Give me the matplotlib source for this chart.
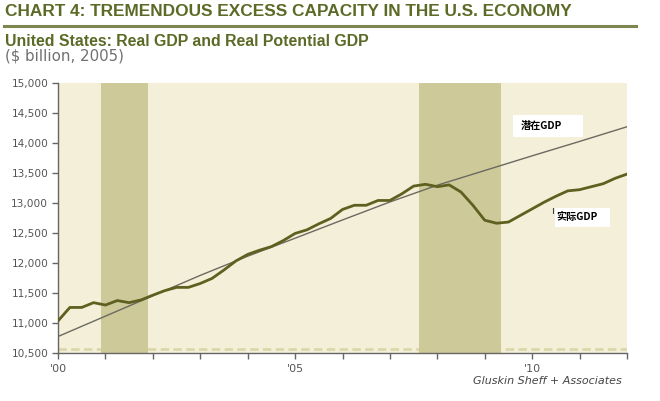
import matplotlib
matplotlib.use("Agg")
import matplotlib.pyplot as plt
from matplotlib.patches import Rectangle
from matplotlib.ticker import FuncFormatter
import numpy as np

# ---------------- data ----------------
start_year = 2000
# Real GDP, quarterly 2000Q1 .. 2012Q1 ($ billion, 2005)
real_gdp = [11030, 11255, 11255, 11335,
            11295, 11370, 11335, 11380,
            11460, 11535, 11590, 11590,
            11655, 11740, 11880, 12030,
            12140, 12210, 12270, 12370,
            12490, 12550, 12650, 12740,
            12890, 12960, 12960, 13040,
            13040, 13150, 13280, 13310,
            13270, 13300, 13180, 12960,
            12710, 12660, 12680, 12790,
            12900, 13010, 13110, 13200,
            13220, 13270, 13320, 13410,
            13480]
# Real potential GDP, annual points
potential_years = [2000, 2001, 2002, 2003, 2004, 2005, 2006, 2007, 2008, 2009, 2010, 2011, 2012]
potential_gdp = [10770, 11110, 11450, 11790, 12110, 12410, 12715, 13015, 13295, 13540, 13785, 14025, 14270]
# recession shading (start, end) in fractional years
recessions = [(2000.91, 2001.90), (2007.62, 2009.34)]
year_ticks = list(range(2000, 2013))
year_labels = {2000: "'00", 2005: "'05", 2010: "'10"}
y_ticks = [10500, 11000, 11500, 12000, 12500, 13000, 13500, 14000, 14500, 15000]

quarter_x = [start_year + i / 4 for i in range(len(real_gdp))]

# ---------------- style ----------------
OLIVE = "#5b6a26"
BG = "#f3efd8"
REC = "#cdc999"
GDP_COL = "#5e6020"
POT_COL = "#6a6a60"
GRAY = "#555555"

fig = plt.figure(figsize=(6.6, 4.01), dpi=100)
fig.patch.set_facecolor("white")
W, H = 660, 401

def fx(px):
    return px / W

def fy(py):
    return 1 - py / H

ax = fig.add_axes([fx(58), fy(352.7), fx(627) - fx(58), fy(83) - fy(352.7)])
ax.set_facecolor(BG)
ax.set_xlim(quarter_x[0], quarter_x[-1])
ax.set_ylim(10500, 15000)

# dashed baseline near the bottom
ax.axhline(10557, color="#dcd7ab", lw=2.0, dashes=(3, 1.6), zorder=1)
for a, b in recessions:
    ax.axvspan(a, b, color=REC, lw=0, zorder=2)

ax.plot(potential_years, potential_gdp, color=POT_COL, lw=1.0, zorder=3)
ax.plot(quarter_x, real_gdp, color=GDP_COL, lw=2.0, zorder=4, solid_joinstyle="round")

for s in ["top", "right"]:
    ax.spines[s].set_visible(False)
for s in ["left", "bottom"]:
    ax.spines[s].set_color("#666666")
    ax.spines[s].set_linewidth(1.0)

ax.set_yticks(y_ticks)
ax.yaxis.set_major_formatter(FuncFormatter(lambda v, p: f"{int(v):,}"))
ax.set_xticks(year_ticks)
ax.set_xticklabels([year_labels.get(y, "") for y in year_ticks])
ax.tick_params(axis="both", direction="out", length=4, width=1, color="#666666",
               labelcolor=GRAY, labelsize=7.6)
ax.tick_params(axis="x", pad=4, labelsize=8)
ax.tick_params(axis="y", pad=3)

# in-chart labels
cjk = ["Noto Sans CJK SC", "DejaVu Sans"]
def px2x(px):
    return quarter_x[0] + (px - 58) / (627 - 58) * (quarter_x[-1] - quarter_x[0])
def py2y(py):
    return 10500 + (352.7 - py) / (352.7 - 83) * 4500

ax.add_patch(Rectangle((px2x(513), py2y(137)), px2x(583) - px2x(513), py2y(115) - py2y(137),
                       facecolor="white", edgecolor="none", zorder=5))
ax.text(px2x(521), py2y(126), "潜在GDP", family=cjk, fontsize=7.3, fontweight="bold",
        color="black", va="center", ha="left", zorder=6)
ax.add_patch(Rectangle((px2x(555), py2y(227)), px2x(610) - px2x(555), py2y(208) - py2y(227),
                       facecolor="white", edgecolor="none", zorder=5))
ax.text(px2x(556), py2y(217), "实际GDP", family=cjk, fontsize=7.3, fontweight="bold",
        color="black", va="center", ha="left", zorder=6)
ax.plot([px2x(552.7), px2x(552.7)], [py2y(213), py2y(208)], color="#444444", lw=0.8, zorder=6)

# header texts
fig.text(fx(5), fy(11), "CHART 4: TREMENDOUS EXCESS CAPACITY IN THE U.S. ECONOMY",
         family=["Liberation Sans", "DejaVu Sans"], fontweight="bold", fontsize=12.4,
         color=OLIVE, va="center", ha="left")
fig.add_artist(plt.Line2D([fx(4), fx(636)], [fy(26), fy(26)], color="#7c8650", lw=2.2))
fig.text(fx(5), fy(41), "United States: Real GDP and Real Potential GDP",
         family=["Liberation Sans", "DejaVu Sans"], fontweight="bold", fontsize=11.4,
         color=OLIVE, va="center", ha="left")
fig.text(fx(5), fy(56), "($ billion, 2005)",
         family=["DejaVu Sans"], fontsize=10.8,
         color="#707070", va="center", ha="left")
fig.text(fx(622), fy(381), "Gluskin Sheff + Associates",
         family=["DejaVu Sans"], style="italic", fontsize=8.0,
         color="#444444", va="center", ha="right")

fig.savefig("out.png", dpi=100, facecolor="white")
